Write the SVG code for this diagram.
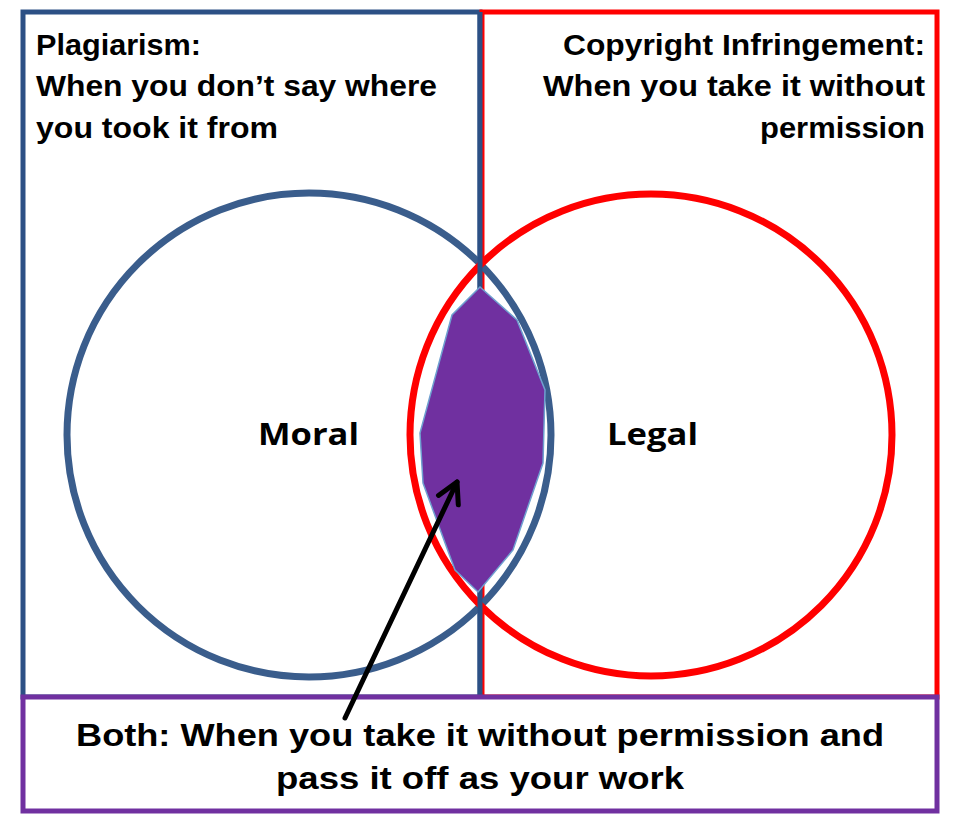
<svg xmlns="http://www.w3.org/2000/svg" width="960" height="835" viewBox="0 0 960 835">
<defs>
<style>
.t{font-family:"Liberation Sans",Arial,sans-serif;font-weight:bold;fill:#000;}
.c{font-family:"Open Sans","Liberation Sans",sans-serif;font-weight:bold;fill:#000;}
.lab{font-size:31px;}
.arr{fill:none;stroke:#000;stroke-width:5;stroke-linecap:round;stroke-linejoin:round;}
</style>
</defs>
<rect width="960" height="835" fill="#fff"/>
<g id="plagiarism-box">
<rect x="23" y="12" width="457" height="685" fill="none" stroke="#2C5085" stroke-width="5"/>
</g>
<g id="copyright-box">
<rect x="482" y="12" width="455" height="685" fill="none" stroke="#FF0000" stroke-width="5"/>
</g>
<g id="moral-circle">
<circle cx="309" cy="435" r="242" fill="none" stroke="#3A5D8C" stroke-width="7"/>
</g>
<g id="legal-circle">
<circle cx="651" cy="435" r="241" fill="none" stroke="#FF0000" stroke-width="7"/>
</g>
<line x1="480" y1="12" x2="480" y2="697" stroke="#2C5085" stroke-width="5"/>
<g id="both-region">
<polygon points="480,287 517,320 545,390 543,463 513,550 478,592 455,570 423,483 420,433 452,315" fill="#7030A0" stroke="#6FA0D0" stroke-width="1.5"/>
</g>
<g id="both-box">
<rect x="23" y="697" width="914" height="114" fill="#fff" stroke="#7030A0" stroke-width="5"/>
</g>
<g id="connectors">
<path class="arr" d="M345,718 L457,482"/>
<path class="arr" d="M438.5,495.4 L457,482 L458.3,504.8"/>
</g>
<g id="labels">
<text class="t" font-size="29" x="36" y="55" textLength="165" lengthAdjust="spacingAndGlyphs">Plagiarism:</text>
<text class="t" font-size="29" x="36" y="96" textLength="401" lengthAdjust="spacingAndGlyphs">When you don’t say where</text>
<text class="t" font-size="29" x="36" y="138" textLength="242" lengthAdjust="spacingAndGlyphs">you took it from</text>
<text class="t" font-size="29" x="925" y="55" text-anchor="end" textLength="362" lengthAdjust="spacingAndGlyphs">Copyright Infringement:</text>
<text class="t" font-size="29" x="925" y="96" text-anchor="end" textLength="382" lengthAdjust="spacingAndGlyphs">When you take it without</text>
<text class="t" font-size="29" x="925" y="138" text-anchor="end" textLength="165" lengthAdjust="spacingAndGlyphs">permission</text>
<text class="c lab" x="258" y="445" textLength="101" lengthAdjust="spacingAndGlyphs">Moral</text>
<text class="c lab" x="607" y="445" textLength="91" lengthAdjust="spacingAndGlyphs">Legal</text>
<text class="t" font-size="32" x="76" y="746" textLength="808" lengthAdjust="spacingAndGlyphs">Both: When you take it without permission and</text>
<text class="t" font-size="32" x="276" y="789" textLength="408" lengthAdjust="spacingAndGlyphs">pass it off as your work</text>
</g>
</svg>
